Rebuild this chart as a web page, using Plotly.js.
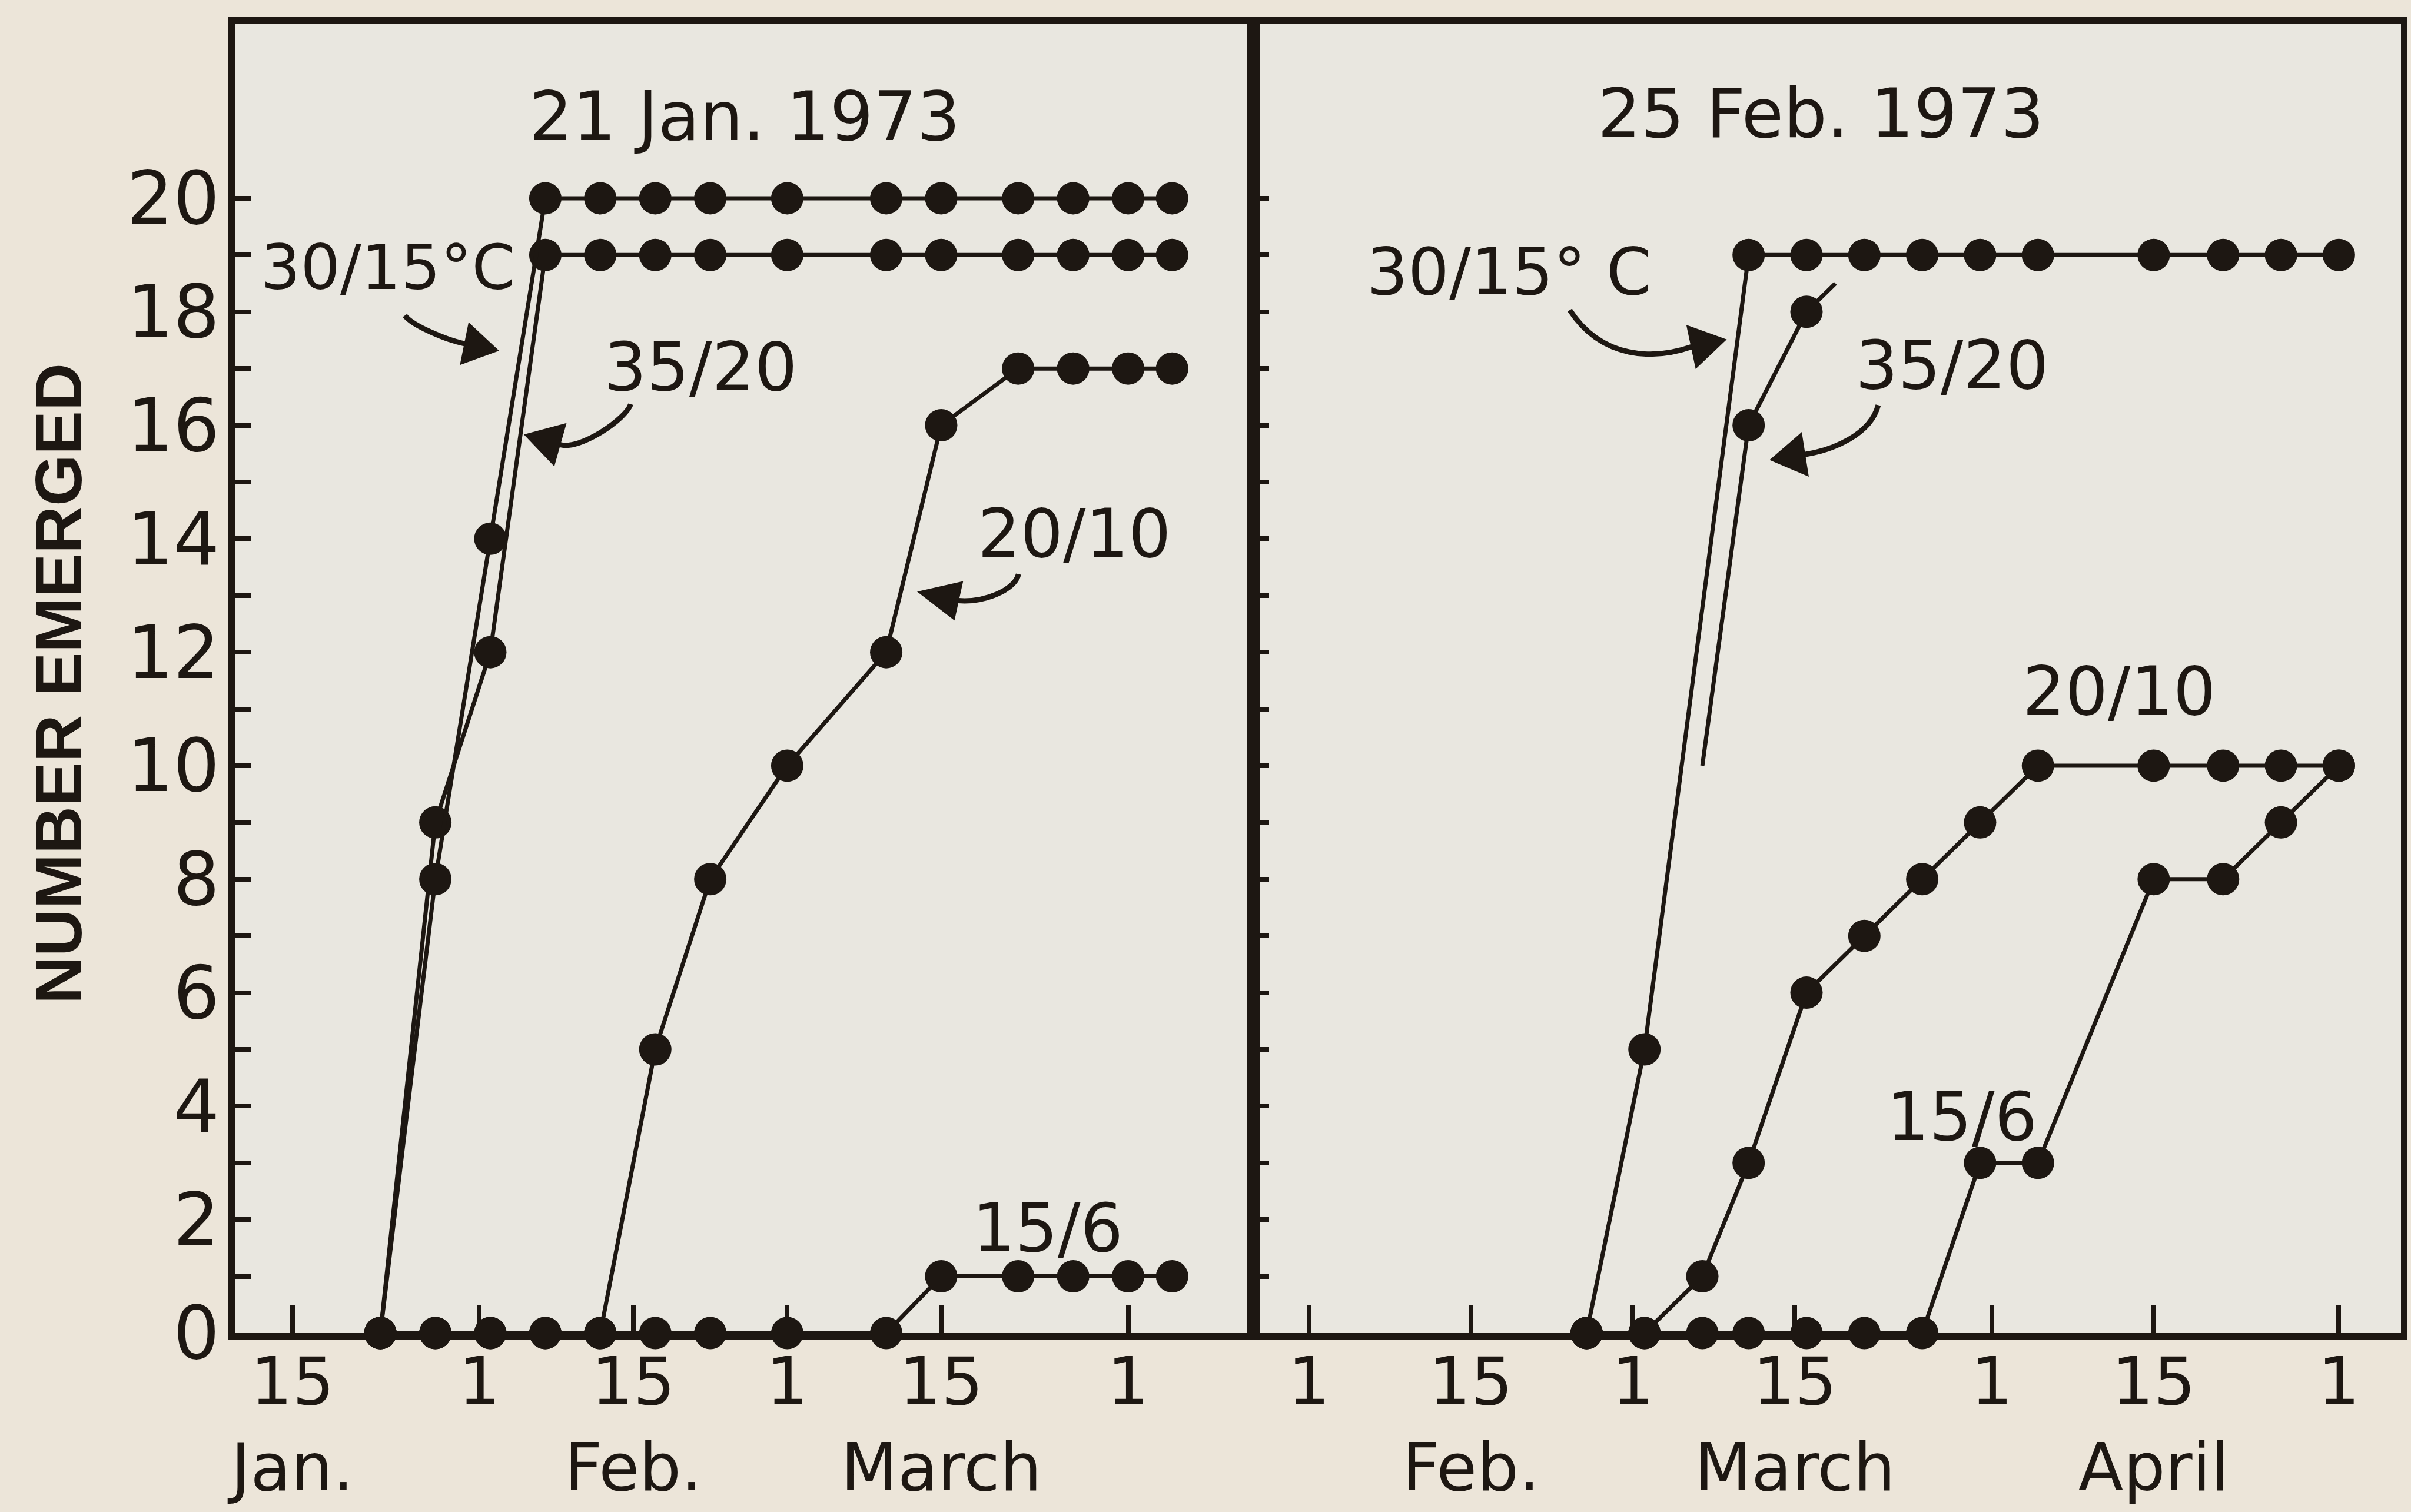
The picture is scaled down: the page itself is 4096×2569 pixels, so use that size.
<!DOCTYPE html>
<html>
<head>
<meta charset="utf-8">
<script src="https://cdn.plot.ly/plotly-3.0.1.min.js"></script>
<style>
html,body{margin:0;padding:0;background:#ece5d9;}
#chart{width:4096px;height:2569px;}
</style>
</head>
<body>
<div id="chart"></div>
<script>
// ---------------- data ----------------
// Run started 21 Jan. 1973 (left panel)
const leftDates = ['1973-01-23','1973-01-28','1973-02-02','1973-02-07','1973-02-12','1973-02-17','1973-02-22',
                   '1973-03-01','1973-03-10','1973-03-15','1973-03-22','1973-03-27','1973-04-01','1973-04-05'];
const left3015 = [0, 8, 14, 20, 20, 20, 20, 20, 20, 20, 20, 20, 20, 20];
const left3520 = [0, 9, 12, 19, 19, 19, 19, 19, 19, 19, 19, 19, 19, 19];
const left2010 = [0, 0, 0, 0, 0, 5, 8, 10, 12, 16, 17, 17, 17, 17];
const left156  = [0, 0, 0, 0, 0, 0, 0, 0, 0, 1, 1, 1, 1, 1];

// Run started 25 Feb. 1973 (right panel)
const rightDates = ['1973-02-25','1973-03-02','1973-03-07','1973-03-11','1973-03-16','1973-03-21','1973-03-26',
                    '1973-03-31','1973-04-05','1973-04-15','1973-04-21','1973-04-26','1973-05-01'];
const right3015 = [0, 5, null, 19, 19, 19, 19, 19, 19, 19, 19, 19, 19];
const right2010 = [0, 0, 1, 3, 6, 7, 8, 9, 10, 10, 10, 10, 10];
const right156  = [0, 0, 0, 0, 0, 0, 0, 3, 3, 8, 8, 9, 10];
// 35/20 in the second run: only a fragment of its line is drawn
const right3520Dates = ['1973-03-07','1973-03-11','1973-03-16','1973-03-18 12:00'];
const right3520      = [10, 16, 18, 18.5];
const right3520Dot   = [false, true, true, false];

// axis ticks
const leftTickDates  = ['1973-01-15','1973-02-01','1973-02-15','1973-03-01','1973-03-15','1973-04-01'];
const leftTickText   = ['15<br>Jan.','1','15<br>Feb.','1','15<br>March','1'];
const rightTickDates = ['1973-02-01','1973-02-15','1973-03-01','1973-03-15','1973-04-01','1973-04-15','1973-05-01'];
const rightTickText  = ['1','15<br>Feb.','1','15<br>March','1','15<br>April','1'];
const yTickVals = [0,1,2,3,4,5,6,7,8,9,10,11,12,13,14,15,16,17,18,19,20];
const yTickText = ['0','','2','','4','','6','','8','','10','','12','','14','','16','','18','','20'];

// ---------------- geometry / style ----------------
const W = 4096, H = 2569;
const ML = 399, MR = 17, MT = 40, MB = 304;
const PW = W - ML - MR, PH = H - MT - MB;
const SPLIT = (2128.8 - ML) / PW;
const K = 4096 / 1568;           // reference-thumbnail px -> page px
const INK = '#1d1712';
const FONT = 'DejaVu Sans, Noto Sans, sans-serif';
const DOT = 55, LW = 7;

function px(ox, oy) { return [(ox - ML) / PW, (H - MB - oy) / PH]; }
function pk(sx, sy) { return px(sx * K, sy * K); }

function series(x, y, xa, ya, sizes) {
  return {
    type: 'scatter', mode: 'lines+markers', x: x, y: y, xaxis: xa, yaxis: ya,
    connectgaps: true, cliponaxis: false, hoverinfo: 'skip', showlegend: false,
    line: { color: INK, width: LW },
    marker: { color: INK, size: sizes || DOT, opacity: 1, line: { width: 0 } }
  };
}

const traces = [
  series(leftDates, left156, 'x', 'y'),
  series(leftDates, left2010, 'x', 'y'),
  series(leftDates, left3520, 'x', 'y'),
  series(leftDates, left3015, 'x', 'y'),
  series(rightDates, right156, 'x2', 'y2'),
  series(rightDates, right2010, 'x2', 'y2'),
  series(rightDates, right3015, 'x2', 'y2'),
  series(right3520Dates, right3520, 'x2', 'y2', right3520Dot.map(d => d ? DOT : 0))
];

// ---------------- curved arrows (decoration) ----------------
// start, control1, control2, base of head, tip, half-width (thumbnail px)
const arrows = [
  [[263.3,205.2],[268,211.7],[290.5,221.2],[302.3,223.6],[323.9,228.0],13.5],
  [[410.2,262.9],[407.2,272.4],[377.5,293],[364.1,289.2],[341.4,282.8],14],
  [[662.4,373.4],[660,384],[640,392],[623.2,390.7],[597.3,385],12.5],
  [[1020.9,201.7],[1042,234],[1076,234],[1100.1,225.6],[1122.3,220.9],14],
  [[1221.5,263.5],[1216.5,282.9],[1191.5,292.9],[1173.7,295.6],[1151.5,299.1],14]
];
const shapes = [];
arrows.forEach(a => {
  const [S, C1, C2, B, T, hw] = a;
  const p = q => pk(q[0], q[1]).join(' ');
  shapes.push({
    type: 'path', xref: 'paper', yref: 'paper', layer: 'above',
    path: 'M ' + p(S) + ' C ' + p(C1) + ', ' + p(C2) + ', ' + p(B),
    line: { color: INK, width: 9 }
  });
  const dx = T[0] - B[0], dy = T[1] - B[1], L = Math.hypot(dx, dy);
  const nx = -dy / L, ny = dx / L;
  const V1 = [B[0] + nx * hw, B[1] + ny * hw], V2 = [B[0] - nx * hw, B[1] - ny * hw];
  shapes.push({
    type: 'path', xref: 'paper', yref: 'paper', layer: 'above',
    path: 'M ' + p(T) + ' L ' + p(V1) + ' L ' + p(V2) + ' Z',
    fillcolor: INK, line: { color: INK, width: 2 }
  });
});

// ---------------- text ----------------
function note(text, ox, oy, size, xanchor, extra) {
  const [x, y] = px(ox, oy);
  return Object.assign({
    text: text, x: x, y: y, xref: 'paper', yref: 'paper', showarrow: false,
    xanchor: xanchor || 'center', yanchor: 'middle',
    font: { family: FONT, size: size, color: INK }
  }, extra || {});
}
const annotations = [
  note('21 Jan. 1973', 1265, 197, 116),
  note('25 Feb. 1973', 3093, 192, 116),
  note('30/15°C', 878, 455, 106, 'right'),
  note('35/20', 1190, 623, 114),
  note('20/10', 1825, 906, 114),
  note('15/6', 1780, 2086, 114),
  note('30/15° C', 2808, 462, 110, 'right'),
  note('35/20', 3316, 621, 114),
  note('20/10', 3600, 1174, 114),
  note('15/6', 3333, 1897, 114),
  note('NUMBER EMERGED', 99, 1162, 112, 'center',
       { textangle: -90, font: { family: 'Liberation Sans, DejaVu Sans, sans-serif', size: 112, color: INK, weight: 'bold' } })
];

const axBase = {
  showline: true, linecolor: INK, linewidth: 11, mirror: true,
  ticks: 'inside', tickcolor: INK, tickwidth: 8,
  showgrid: false, zeroline: false, fixedrange: true
};
const layout = {
  width: W, height: H,
  margin: { l: ML, r: MR, t: MT, b: MB, pad: 0 },
  paper_bgcolor: '#ece5d9', plot_bgcolor: '#e9e7e0',
  font: { family: FONT, color: INK },
  showlegend: false,
  xaxis: Object.assign({}, axBase, {
    type: 'date', domain: [0, SPLIT], anchor: 'y',
    range: ['1973-01-09 18:29', '1973-04-12 08:38'],
    tickmode: 'array', tickvals: leftTickDates, ticktext: leftTickText,
    ticklen: 48, tickangle: 0, ticklabelstandoff: -24,
    tickfont: { family: FONT, size: 112, color: INK }
  }),
  xaxis2: Object.assign({}, axBase, {
    type: 'date', domain: [SPLIT, 1], anchor: 'y2',
    range: ['1973-01-27 04:19', '1973-05-06 08:53'],
    tickmode: 'array', tickvals: rightTickDates, ticktext: rightTickText,
    ticklen: 48, tickangle: 0, ticklabelstandoff: -24,
    tickfont: { family: FONT, size: 112, color: INK }
  }),
  yaxis: Object.assign({}, axBase, {
    domain: [0, 1], anchor: 'x', range: [0, 23.08],
    tickmode: 'array', tickvals: yTickVals, ticktext: yTickText,
    ticklen: 27, ticklabelstandoff: -10,
    tickfont: { family: FONT, size: 124, color: INK }
  }),
  yaxis2: Object.assign({}, axBase, {
    domain: [0, 1], anchor: 'x2', range: [0, 23.08],
    tickmode: 'array', tickvals: yTickVals, showticklabels: false,
    ticklen: 27
  }),
  shapes: shapes,
  annotations: annotations
};

Plotly.newPlot('chart', traces, layout, { displayModeBar: false, staticPlot: true });
</script>
</body>
</html>
